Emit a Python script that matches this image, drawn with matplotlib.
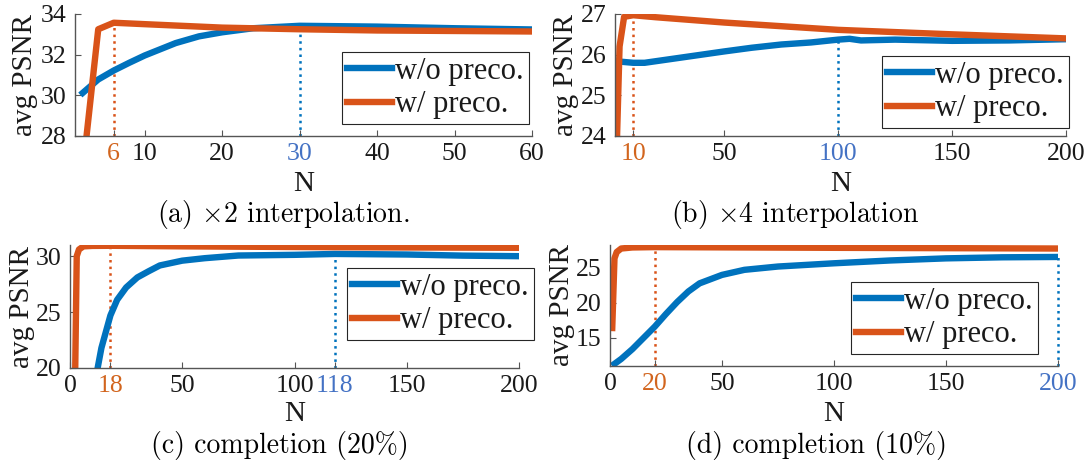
import matplotlib.pyplot as plt

plt.rcParams['font.family'] = ['Liberation Serif', 'DejaVu Serif']
plt.rcParams['mathtext.fontset'] = 'cm'

BLUE = '#0072BD'
ORANGE = '#D95319'
TICK_BLUE = '#4472C4'
TICK_ORANGE = '#D2651E'
TEXT = '#1a1a1a'

# (a) x2 interpolation
a_n_blue = [2, 4, 6, 8, 10, 14, 17, 20, 24, 30, 40, 50, 60]
a_blue = [30.12, 30.78, 31.22, 31.6, 31.96, 32.57, 32.9, 33.1, 33.3, 33.42, 33.38, 33.3, 33.24]
a_n_orange = [2, 4, 6, 10, 20, 30, 40, 60]
a_orange = [26.3, 33.25, 33.57, 33.5, 33.33, 33.25, 33.19, 33.14]
a_ticks = [6, 10, 20, 30, 40, 50, 60]
a_mark = [6, 30]

# (b) x4 interpolation
b_n_blue = [2, 10, 15, 20, 30, 40, 50, 62, 75, 88, 100, 105, 110, 125, 150, 175, 200]
b_blue = [25.84, 25.8, 25.8, 25.84, 25.92, 26.0, 26.08, 26.17, 26.25, 26.3, 26.37, 26.39, 26.35,
          26.37, 26.34, 26.35, 26.38]
b_n_orange = [2, 4, 6, 10, 20, 50, 100, 150, 200]
b_orange = [22.2, 26.2, 26.93, 26.97, 26.92, 26.79, 26.61, 26.5, 26.4]
b_ticks = [10, 50, 100, 150, 200]
b_mark = [10, 100]

# (c) completion 20%
c_n_blue = [11, 14, 18, 21, 25, 30, 35, 40, 50, 60, 75, 100, 118, 150, 175, 200]
c_blue = [18.6, 21.8, 24.7, 26.1, 27.2, 28.1, 28.65, 29.17, 29.6, 29.82, 30.06, 30.12, 30.2,
          30.15, 30.05, 30.0]
c_n_orange = [2, 3, 4, 6, 10, 18, 50, 100, 150, 200]
c_orange = [15.0, 30.0, 30.6, 30.88, 30.92, 30.93, 30.88, 30.82, 30.78, 30.75]
c_ticks = [0, 18, 50, 100, 118, 150, 200]
c_mark = [18, 118]

# (d) completion 10%
d_n_blue = [2, 5, 10, 15, 20, 25, 30, 35, 40, 50, 60, 75, 100, 125, 150, 175, 200]
d_blue = [11.3, 12.0, 13.4, 15.0, 16.6, 18.4, 20.1, 21.6, 22.75, 23.95, 24.67, 25.14, 25.6,
          26.0, 26.3, 26.45, 26.5]
d_n_orange = [1, 2, 3, 5, 10, 20, 100, 200]
d_orange = [16.4, 26.3, 27.2, 27.7, 27.85, 27.9, 27.8, 27.7]
d_ticks = [0, 20, 50, 100, 150, 200]
d_mark = [20, 200]

captions = [r'(a) $\times$2 interpolation.', r'(b) $\times$4 interpolation',
            '(c) completion (20%)', '(d) completion (10%)']

W, H = 1090, 463
fig = plt.figure(figsize=(W / 100, H / 100), dpi=100)


def add_ax(l, r, t, b):
    return fig.add_axes([l / W, 1 - b / H, (r - l) / W, (b - t) / H])


panels = [
    dict(box=(75, 532, 14, 136), xlim=(1, 60), ylim=(28, 34), yt=[28, 30, 32, 34],
         nb=a_n_blue, vb=a_blue, no=a_n_orange, vo=a_orange, xt=a_ticks, mark=a_mark,
         leg=(342, 124), cap=(283, 215), nlab=184, ylab=25),
    dict(box=(615, 1066, 14, 136), xlim=(2, 200), ylim=(24, 27), yt=[24, 25, 26, 27],
         nb=b_n_blue, vb=b_blue, no=b_n_orange, vo=b_orange, xt=b_ticks, mark=b_mark,
         leg=(882, 128), cap=(795, 215), nlab=184, ylab=566),
    dict(box=(70, 519, 245, 368), xlim=(0, 200), ylim=(20, 31), yt=[20, 25, 30],
         nb=c_n_blue, vb=c_blue, no=c_n_orange, vo=c_orange, xt=c_ticks, mark=c_mark,
         leg=(347, 340), cap=(280, 445), nlab=414, ylab=22),
    dict(box=(610, 1058, 245, 366), xlim=(0, 200), ylim=(11, 28.2), yt=[15, 20, 25],
         nb=d_n_blue, vb=d_blue, no=d_n_orange, vo=d_orange, xt=d_ticks, mark=d_mark,
         leg=(851, 354), cap=(817, 445), nlab=414, ylab=562),
]

for p, cap in zip(panels, captions):
    ax = add_ax(*p['box'])
    lb, = ax.plot(p['nb'], p['vb'], color=BLUE, lw=4.6, label='w/o preco.')
    lo, = ax.plot(p['no'], p['vo'], color=ORANGE, lw=4.6, label='w/ preco.')
    ax.set_xlim(*p['xlim'])
    ax.set_ylim(*p['ylim'])

    # dotted markers up to the curve
    mo, mb = p['mark']
    yo = p['vo'][p['no'].index(mo)] if mo in p['no'] else max(p['vo'])
    yb = p['vb'][p['nb'].index(mb)]
    ax.plot([mo, mo], [p['ylim'][0], yo], ls=':', color=ORANGE, lw=1.8, zorder=1)
    ax.plot([mb, mb], [p['ylim'][0], yb], ls=':', color=BLUE, lw=1.8, zorder=1,
            clip_on=False)

    ax.set_xticks(p['xt'])
    ax.set_yticks(p['yt'])
    ax.tick_params(direction='in', length=4, width=0.8, color='#555555',
                   labelsize=18.5, labelcolor=TEXT, pad=6)
    ax.tick_params(axis='x', pad=5)
    for t, lab in zip(p['xt'], ax.get_xticklabels()):
        if t == mo:
            lab.set_color(TICK_ORANGE)
        elif t == mb:
            lab.set_color(TICK_BLUE)
    for s in ['top', 'right']:
        ax.spines[s].set_visible(False)
    for s in ['left', 'bottom']:
        ax.spines[s].set_color('#555555')
        ax.spines[s].set_linewidth(1.0)

    l, r, t, b = p['box']
    ax.set_ylabel('avg PSNR', fontsize=21, color=TEXT, va='center')
    ax.yaxis.set_label_coords((p['ylab'] - l) / (r - l), 0.5)
    fig.text((l + r) / 2 / W, 1 - p['nlab'] / H, 'N', fontsize=21, color=TEXT,
             ha='center', va='center')
    fig.text(p['cap'][0] / W, 1 - p['cap'][1] / H, cap, family='cmr10', fontsize=20,
             ha='center', va='center')

    lx, ly = p['leg']
    leg = ax.legend(handles=[lb, lo], loc='lower left',
                    bbox_to_anchor=(lx / W, 1 - ly / H), bbox_transform=fig.transFigure,
                    fontsize=22, frameon=True, fancybox=False, framealpha=1,
                    edgecolor='#262626', handlelength=1.5, handletextpad=0.1,
                    borderpad=0.15, labelspacing=0.15, borderaxespad=0)
    leg.get_frame().set_linewidth(0.8)
    for txt in leg.get_texts():
        txt.set_color(TEXT)

fig.savefig('out.png', dpi=100)
